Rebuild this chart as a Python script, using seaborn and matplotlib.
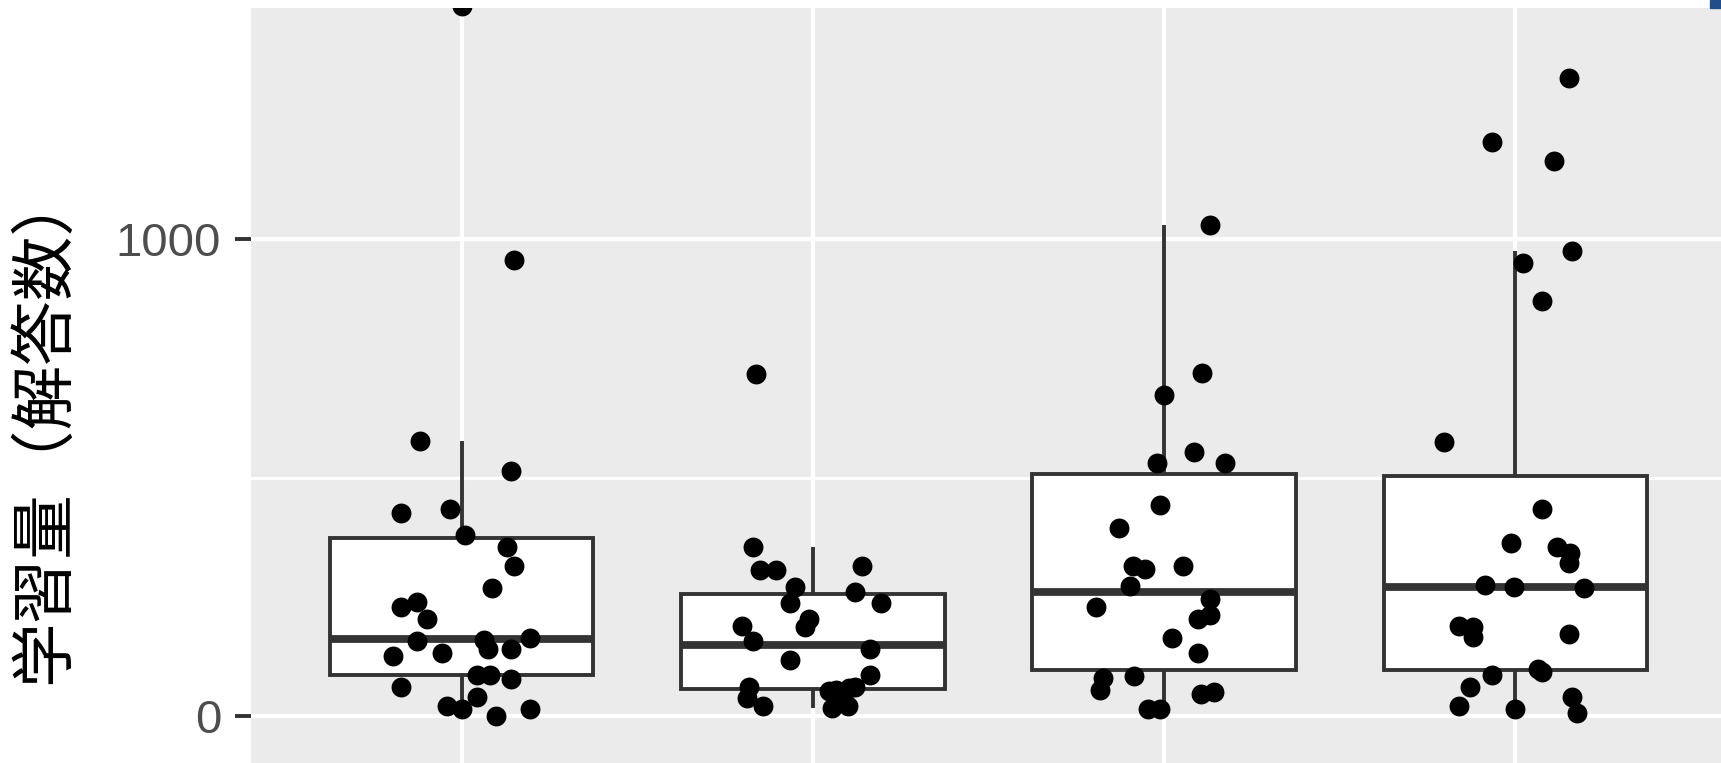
import numpy as np
import pandas as pd
import matplotlib
matplotlib.use("Agg")
import matplotlib.pyplot as plt
from matplotlib.patches import Rectangle
import seaborn as sns

# groups (x labels are cropped out of the reference)
groups = ["A", "B", "C", "D"]

# learning amount (number of answers) per group
values_a = [1490, 958, 577, 515, 426, 434, 381, 356, 316, 269, 230, 239, 204, 158, 160,
            141, 165, 142, 127, 133, 86, 86, 78, 61, 40, 22, 15, 0, 15, 1800]
values_b = [719, 355, 308, 308, 315, 272, 237, 262, 237, 204, 188, 190, 159, 141, 118,
            87, 62, 38, 22, 54, 62, 22, 17, 38, 56, 60]
values_c = [1030, 720, 673, 554, 531, 531, 443, 395, 316, 309, 316, 274, 246, 229, 204,
            213, 165, 133, 80, 56, 85, 47, 52, 15, 15, 1650]
values_d = [1339, 1204, 1164, 975, 951, 872, 576, 434, 363, 356, 342, 322, 276, 272, 269,
            190, 188, 167, 172, 100, 94, 87, 61, 22, 15, 40, 8]

# horizontal jitter of each point (category units)
jitter_a = [0.0, 0.15, -0.119, 0.140, -0.172, -0.033, 0.010, 0.130, 0.150, 0.087, -0.172,
            -0.128, -0.098, -0.128, 0.064, 0.076, 0.195, 0.141, -0.195, -0.055, 0.043,
            0.081, 0.141, -0.172, 0.043, -0.043, 0.0, 0.097, 0.195, 0.0]
jitter_b = [-0.161, -0.172, -0.151, -0.105, 0.141, -0.052, -0.065, 0.119, 0.195, -0.010,
            -0.022, -0.203, -0.172, 0.164, -0.064, 0.164, -0.183, -0.189, -0.141, 0.046,
            0.120, 0.099, 0.053, 0.075, 0.065, 0.103]
jitter_c = [0.130, 0.107, 0.0, 0.086, -0.021, 0.173, -0.011, -0.129, -0.088, -0.055, 0.053,
            -0.098, 0.130, -0.195, 0.097, 0.130, 0.022, 0.096, -0.173, -0.182, -0.087,
            0.106, 0.142, -0.046, -0.012, 0.0]
jitter_d = [0.152, -0.065, 0.109, 0.161, 0.021, 0.075, -0.204, 0.075, -0.011, 0.119, 0.157,
            0.153, -0.087, -0.005, 0.195, -0.159, -0.119, -0.119, 0.153, 0.064, 0.076,
            -0.065, -0.130, -0.161, 0.0, 0.161, 0.177]

y_label = "学習量（解答数）"

all_values = [values_a, values_b, values_c, values_d]
all_jitter = [jitter_a, jitter_b, jitter_c, jitter_d]
rows = []
for i, (g, vals, jit) in enumerate(zip(groups, all_values, all_jitter)):
    for v, j in zip(vals, jit):
        rows.append({"group": g, "value": v, "xpos": i + j})
df = pd.DataFrame(rows)

sns.set_theme(style="darkgrid", rc={"axes.facecolor": "#EBEBEB",
                                    "figure.facecolor": "white"})
plt.rcParams["font.family"] = ["Liberation Sans", "Noto Sans CJK JP", "DejaVu Sans"]

W, H = 1721, 763
fig = plt.figure(figsize=(W / 100, H / 100), dpi=100)
# panel is cropped at the bottom and right edge of the image
left, right, top = 251, 1726, 8
ax = fig.add_axes([left / W, 0, (right - left) / W, (H - top) / H])

sns.boxplot(data=df, x="group", y="value", order=groups, width=0.75,
            color="white", saturation=1, linecolor="#333333", linewidth=2.8,
            showfliers=False, showcaps=False,
            medianprops={"linewidth": 5.6, "color": "#333333"},
            whiskerprops={"linewidth": 2.8, "color": "#333333"},
            ax=ax, zorder=2)
sns.scatterplot(x=df["xpos"], y=df["value"], color="black", s=205, linewidth=0,
                legend=False, ax=ax, zorder=3)

ax.set_xlim(-0.6, 3.6)
ax.set_ylim(-97.5, 1485.3)
ax.set_xticks(range(len(groups)))
ax.set_yticks([0, 1000])
ax.set_yticks([500], minor=True)
ax.set_axisbelow(True)
ax.grid(True, which="major", color="white", linewidth=3.0)
ax.grid(True, which="minor", axis="y", color="white", linewidth=2.3)
ax.xaxis.grid(True, which="major", color="white", linewidth=3.0)
ax.tick_params(axis="x", length=0, labelbottom=False)
ax.tick_params(axis="y", which="major", left=True, length=11.5, width=2.8,
               color="#333333", pad=10, labelsize=34, labelcolor="#4D4D4D")
ax.tick_params(axis="y", which="minor", length=0)
ax.set_xlabel("")
ax.set_ylabel("")
for s in ax.spines.values():
    s.set_visible(False)

fig.text(45 / W, 1 - 425 / H, y_label, rotation=90, ha="center", va="center",
         fontsize=46.5, color="black", family=["Noto Sans CJK JP", "DejaVu Sans"])

fig.patches.append(Rectangle((1710 / W, (H - 8) / H), 11 / W, 8 / H,
                             transform=fig.transFigure, color="#1F4E89"))

fig.savefig("out.png", dpi=100)
